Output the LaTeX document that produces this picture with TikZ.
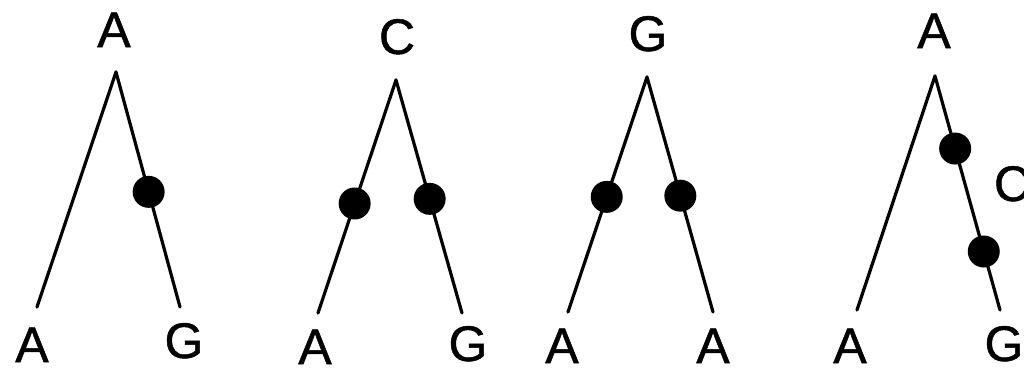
\documentclass[tikz,border=0pt]{standalone}
\usepackage{fontspec}
\setmainfont{Liberation Sans}
\newfontfamily\lblfont{Liberation Sans}[FakeBold=1]
\begin{document}
\begin{tikzpicture}[x=1pt,y=-1pt,
  lbl/.style={inner sep=0pt,anchor=base,font=\lblfont\fontsize{50}{56}\selectfont},
  branch/.style={line width=3.2pt,line cap=round},
  dot/.style={circle,fill=black,inner sep=0pt,minimum size=32pt}]
\useasboundingbox[fill=white] (0,0) rectangle (1024,372);
% tree 1
\node[lbl] (t1) at (114,47) {A};
\coordinate (r1) at (116,72);
\coordinate (a1) at (37,307);
\coordinate (b1) at (180,307);
\node[lbl] (la1) at (32,362) {A};
\node[lbl] (lb1) at (184,358) {G};
\draw[branch] (r1) -- (a1);
\draw[branch] (r1) -- (b1);
\path (r1) -- (b1) node[dot,pos=0.51] (d1) {};
% tree 2
\node[lbl] (t2) at (397,54) {C};
\coordinate (r2) at (396,80);
\coordinate (a2) at (318,313);
\coordinate (b2) at (462,313);
\node[lbl] (la2) at (315,364) {A};
\node[lbl] (lb2) at (468,361) {G};
\draw[branch] (r2) -- (a2);
\draw[branch] (r2) -- (b2);
\path (r2) -- (a2) node[dot,pos=0.53] (d2) {};
\path (r2) -- (b2) node[dot,pos=0.51] (d3) {};
% tree 3
\node[lbl] (t3) at (648,51) {G};
\coordinate (r3) at (647,77);
\coordinate (a3) at (568,312);
\coordinate (b3) at (713,312);
\node[lbl] (la3) at (562,363) {A};
\node[lbl] (lb3) at (713,363) {A};
\draw[branch] (r3) -- (a3);
\draw[branch] (r3) -- (b3);
\path (r3) -- (a3) node[dot,pos=0.51] (d4) {};
\path (r3) -- (b3) node[dot,pos=0.505] (d5) {};
% tree 4
\node[lbl] (t4) at (934,48) {A};
\coordinate (r4) at (935,76);
\coordinate (a4) at (857,310);
\coordinate (b4) at (1000,310);
\node[lbl] (la4) at (850,363) {A};
\node[lbl] (lb4) at (1004,361) {G};
\node[lbl] (c4) at (1012,201) {C};
\draw[branch] (r4) -- (a4);
\draw[branch] (r4) -- (b4);
\path (r4) -- (b4) node[dot,pos=0.31] (d6) {};
\path (r4) -- (b4) node[dot,pos=0.75] (d7) {};
\end{tikzpicture}
\end{document}
